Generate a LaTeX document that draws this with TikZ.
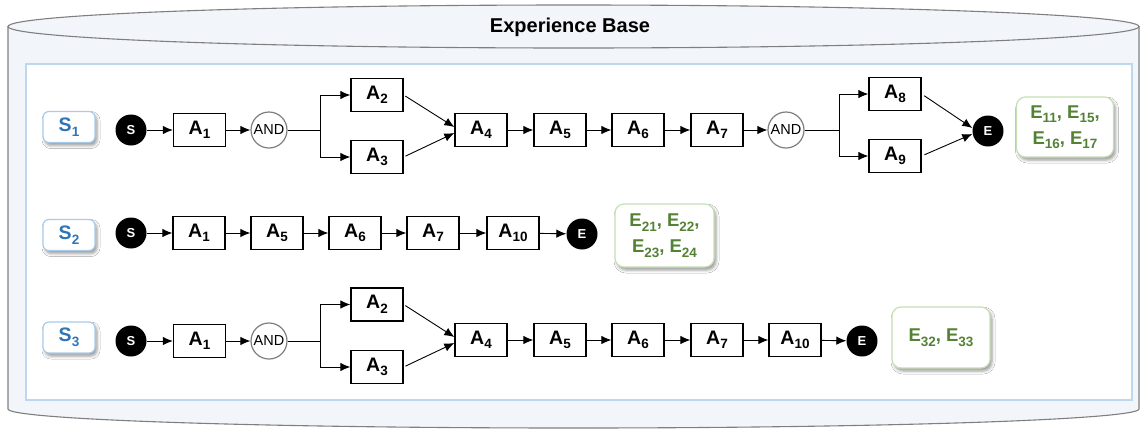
\documentclass[tikz,border=0pt]{standalone}
\usepackage{fontspec}
\setmainfont{Liberation Sans}
\usetikzlibrary{arrows.meta,shadows.blur}
\definecolor{cylfill}{HTML}{F2F6FA}
\definecolor{cylline}{HTML}{7F7F7F}
\definecolor{panelline}{HTML}{BDD7EE}
\definecolor{scenblue}{HTML}{2E75B6}
\definecolor{scenline}{HTML}{A9CBEA}
\definecolor{expgreen}{HTML}{548235}
\definecolor{expline}{HTML}{C5E0B4}
\newcommand{\lo}[1]{\raisebox{-4.5pt}{\fontsize{13.5}{14}\selectfont #1}}

\begin{document}
\begin{tikzpicture}[x=1pt,y=-1pt,every node/.style={font=\fontsize{19.5}{21}\bfseries\selectfont},
  act/.style={draw,line width=1.3pt,fill=white,minimum width=52pt,minimum height=33pt,inner sep=0pt},
  andgate/.style={circle,draw=cylline,line width=1.2pt,fill=white,minimum size=36pt,inner sep=0pt,font=\fontsize{14.5}{15}\selectfont},
  event/.style={circle,fill=black,minimum size=31pt,inner sep=0pt,text=white,font=\fontsize{13}{13}\bfseries\selectfont},
  scen/.style={draw=scenline,line width=1.2pt,fill=white,rounded corners=6pt,minimum width=52pt,minimum height=31pt,inner sep=0pt,text=scenblue,
    blur shadow={shadow xshift=2pt,shadow yshift=-3pt,shadow blur radius=3pt,shadow opacity=40}},
  expbox/.style={draw=expline,line width=1.2pt,fill=white,rounded corners=9pt,inner sep=0pt,text=expgreen,align=center,
    font=\fontsize{18.5}{26}\bfseries\selectfont,
    blur shadow={shadow xshift=2pt,shadow yshift=-3pt,shadow blur radius=3pt,shadow opacity=40}},
  arr/.style={-{Latex[length=10pt,width=8.5pt]},line width=0.9pt}]
\useasboundingbox (0,0) rectangle (1140,429);
% cylinder
\fill[cylfill] (8,26) -- (8,409) arc[start angle=180,end angle=0,x radius=565.5,y radius=19] -- (1139,26) -- cycle;
\draw[cylline,line width=1.1pt] (8,26) -- (8,409) arc[start angle=180,end angle=0,x radius=565.5,y radius=19] -- (1139,26);
\draw[cylline,line width=1.1pt,fill=cylfill] (573.5,26.5) ellipse[x radius=565.5,y radius=21.5];
\node[font=\fontsize{20}{22}\bfseries\selectfont] (title) at (570,27) {Experience Base};
\draw[panelline,line width=1.5pt,fill=white] (26,64) rectangle (1132,400);

% scenario 1
\node[scen] (s1lab) at (69,127) {S\lo{1}};
\node[event] (r1s) at (131,130) {S};
\node[act] (r1a1) at (199.5,130) {A\lo{1}};
\node[andgate] (r1and) at (269,130) {AND};
\coordinate (r1f1) at (320,130);
\node[act] (r1a2) at (377,95) {A\lo{2}};
\node[act] (r1a3) at (377,157) {A\lo{3}};
\node[act] (r1a4) at (481,130) {A\lo{4}};
\node[act] (r1a5) at (560,130) {A\lo{5}};
\node[act] (r1a6) at (638,130) {A\lo{6}};
\node[act] (r1a7) at (717,130) {A\lo{7}};
\node[andgate] (r1and2) at (786,130) {AND};
\coordinate (r1f2) at (839,130);
\node[act] (r1a8) at (895,94) {A\lo{8}};
\node[act] (r1a9) at (895,156) {A\lo{9}};
\node[event] (r1e) at (988,131) {E};
\node[expbox,minimum width=97pt,minimum height=60pt] (r1exp) at (1065,127) {E\lo{11}, E\lo{15},\\E\lo{16}, E\lo{17}};
\draw[arr] (r1s) -- (r1a1);
\draw[arr] (r1a1) -- (r1and);
\draw[arr] (r1and) -- (r1f1) |- (r1a2);
\draw[arr] (r1f1) |- (r1a3);
\draw[arr,shorten <=2pt] (r1a2.east) -- ([yshift=3pt]r1a4.west);
\draw[arr,shorten <=2pt] (r1a3.east) -- ([yshift=-3pt]r1a4.west);
\draw[arr] (r1a4) -- (r1a5);
\draw[arr] (r1a5) -- (r1a6);
\draw[arr] (r1a6) -- (r1a7);
\draw[arr] (r1a7) -- (r1and2);
\draw[arr] (r1and2) -- (r1f2) |- (r1a8);
\draw[arr] (r1f2) |- (r1a9);
\draw[arr,shorten <=3pt] (r1a8.east) -- ([yshift=3pt]r1e.west);
\draw[arr,shorten <=3pt] (r1a9.east) -- ([yshift=-3pt]r1e.west);

% scenario 2
\node[scen] (s2lab) at (69,235) {S\lo{2}};
\node[event] (r2s) at (131,233) {S};
\node[act] (r2a1) at (199,233) {A\lo{1}};
\node[act] (r2a5) at (277,233) {A\lo{5}};
\node[act] (r2a6) at (355,233) {A\lo{6}};
\node[act] (r2a7) at (433,233) {A\lo{7}};
\node[act] (r2a10) at (513,233) {A\lo{10}};
\node[event] (r2e) at (582,234) {E};
\node[expbox,minimum width=99pt,minimum height=63pt] (r2exp) at (664.5,235.5) {E\lo{21}, E\lo{22},\\E\lo{23}, E\lo{24}};
\draw[arr] (r2s) -- (r2a1);
\draw[arr] (r2a1) -- (r2a5);
\draw[arr] (r2a5) -- (r2a6);
\draw[arr] (r2a6) -- (r2a7);
\draw[arr] (r2a7) -- (r2a10);
\draw[arr] (r2a10) -- (r2e);

% scenario 3
\node[scen] (s3lab) at (69,337.5) {S\lo{3}};
\node[event] (r3s) at (131,341) {S};
\node[act] (r3a1) at (199.5,341) {A\lo{1}};
\node[andgate] (r3and) at (269,341) {AND};
\coordinate (r3f1) at (320,341);
\node[act] (r3a2) at (377,304.5) {A\lo{2}};
\node[act] (r3a3) at (377,367) {A\lo{3}};
\node[act] (r3a4) at (481,340) {A\lo{4}};
\node[act] (r3a5) at (560,340) {A\lo{5}};
\node[act] (r3a6) at (638,340) {A\lo{6}};
\node[act] (r3a7) at (717,340) {A\lo{7}};
\node[act] (r3a10) at (795,340) {A\lo{10}};
\node[event] (r3e) at (862,341) {E};
\node[expbox,minimum width=98pt,minimum height=61pt] (r3exp) at (941,337.5) {E\lo{32}, E\lo{33}};
\draw[arr] (r3s) -- (r3a1);
\draw[arr] (r3a1) -- (r3and);
\draw[arr] (r3and) -- (r3f1) |- (r3a2);
\draw[arr] (r3f1) |- (r3a3);
\draw[arr,shorten <=2pt] (r3a2.east) -- ([yshift=3pt]r3a4.west);
\draw[arr,shorten <=2pt] (r3a3.east) -- ([yshift=-3pt]r3a4.west);
\draw[arr] (r3a4) -- (r3a5);
\draw[arr] (r3a5) -- (r3a6);
\draw[arr] (r3a6) -- (r3a7);
\draw[arr] (r3a7) -- (r3a10);
\draw[arr] (r3a10) -- (r3e);
\end{tikzpicture}
\end{document}
